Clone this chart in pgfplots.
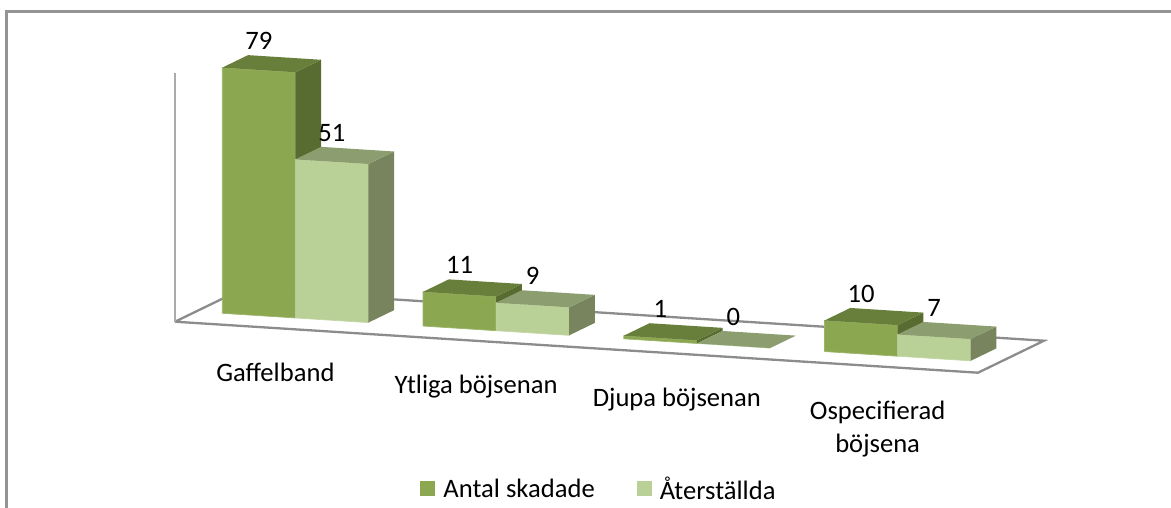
\documentclass[border=0pt]{standalone}
\usepackage{pgfplots}
\pgfplotsset{compat=1.18}
\usepackage{fontspec}
\setmainfont{Carlito}

\definecolor{frontA}{HTML}{8BA851}
\definecolor{topA}{HTML}{677F3A}
\definecolor{sideA}{HTML}{586B30}
\definecolor{frontB}{HTML}{B9D096}
\definecolor{topB}{HTML}{8C9E6F}
\definecolor{sideB}{HTML}{77845E}
\definecolor{floorline}{HTML}{8C8C8C}

% one 3d bar: left x, value, colours of front, top and side
\newcommand{\barthree}[5]{%
  \pgfmathsetmacro{\xr}{#1+0.364}%
  \addplot3[forget plot,draw=#3!85!white,line width=0.7pt,fill=#3] coordinates {(#1,0.315,0) (\xr,0.315,0) (\xr,0.315,#2) (#1,0.315,#2) (#1,0.315,0)};
  \addplot3[forget plot,draw=none,fill=#5] coordinates {(\xr,0.315,0) (\xr,0.705,0) (\xr,0.705,#2) (\xr,0.315,#2)};
  \addplot3[forget plot,draw=none,fill=#4] coordinates {(#1,0.315,#2) (\xr,0.315,#2) (\xr,0.705,#2) (#1,0.705,#2)};
}

\begin{document}
\begin{tikzpicture}[x=1pt,y=1pt]
  \useasboundingbox (0,0) rectangle (1171,507);
  \draw[line width=2.6pt,color=black!42] (6.7,-5) -- (6.7,495.7) -- (1176,495.7);
  \begin{axis}[
    anchor=origin,
    at={(175pt,185.3pt)},
    x={(200.75pt,-12.75pt)},
    y={(66pt,32pt)},
    z={(0pt,3.11pt)},
    xmin=0,xmax=4,ymin=0,ymax=1,zmin=0,zmax=80,
    clip=false,
    axis line style={draw=none},
    major tick style={draw=none},
    xtick={0.5,1.5,2.5,3.5},
    xticklabels={Gaffelband,Ytliga böjsenan,Djupa böjsenan,{Ospecifierad\\böjsena}},
    ytick=\empty,
    ztick=\empty,
    x tick label style={anchor=north,align=center,font=\fontsize{26.6}{33}\selectfont,yshift=-31pt},
    legend columns=2,
    legend style={at={(axis cs:2.112,0,-45.1)},anchor=center,draw=none,fill=none,
      font=\fontsize{26.6}{30}\selectfont,
      /tikz/every odd column/.append style={column sep=6pt},
      /tikz/every even column/.append style={column sep=40pt}},
    legend image code/.code={\path[#1,draw=none] (0pt,-7.5pt) rectangle (15pt,7.5pt);},
    ]
    % floor and wall
    \addplot3[forget plot,color=floorline,line width=2.3pt] coordinates {(0,0,0) (4,0,0) (4,1,0) (0,1,0) (0,0,0)};
    \addplot3[forget plot,color=black!33,line width=2.3pt] coordinates {(0,0,0) (0,0,80)};

    \barthree{0.132}{79}{frontA}{topA}{sideA}
    \barthree{0.496}{51}{frontB}{topB}{sideB}
    \barthree{1.132}{11}{frontA}{topA}{sideA}
    \barthree{1.496}{9}{frontB}{topB}{sideB}
    \barthree{2.132}{1}{frontA}{topA}{sideA}
    \barthree{2.496}{0}{frontB}{topB}{sideB}
    \barthree{3.132}{10}{frontA}{topA}{sideA}
    \barthree{3.496}{7}{frontB}{topB}{sideB}

    % value labels
    \addplot3[forget plot,draw=none,mark=none,point meta=z,
      nodes near coords,
      nodes near coords style={anchor=center,yshift=29pt,font=\fontsize{26.6}{30}\selectfont,
        /pgf/number format/assume math mode=true}]
      coordinates {(0.314,0.315,79) (0.678,0.315,51) (1.314,0.315,11) (1.678,0.315,9)
        (2.314,0.315,1) (2.678,0.315,0) (3.314,0.315,10) (3.678,0.315,7)};

    \addlegendimage{fill=frontA}
    \addlegendentry{Antal skadade}
    \addlegendimage{fill=frontB}
    \addlegendentry{Återställda}
  \end{axis}
\end{tikzpicture}
\end{document}
